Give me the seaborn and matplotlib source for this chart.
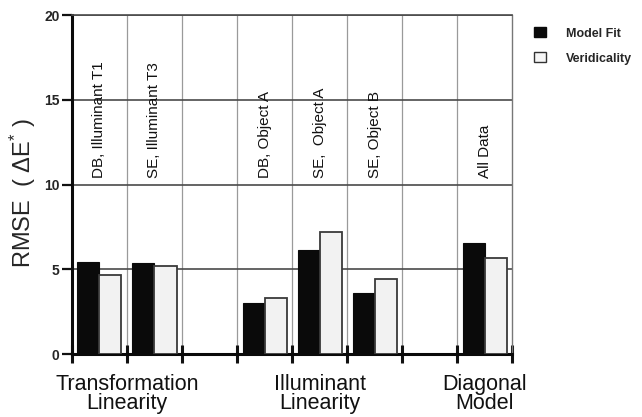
import matplotlib
matplotlib.use("Agg")
import matplotlib.pyplot as plt
from matplotlib.patches import Patch
import seaborn as sns
import pandas as pd

# Slots along the x axis (gap slots separate the three analysis groups)
slots = ["DB, Illuminant T1", "SE, Illuminant T3", "gap_a",
         "DB, Object A", "SE,  Object A", "SE, Object B", "gap_b",
         "All Data"]
conditions = ["DB, Illuminant T1", "SE, Illuminant T3",
              "DB, Object A", "SE,  Object A", "SE, Object B", "All Data"]
model_fit = [5.45, 5.35, 3.02, 6.12, 3.58, 6.53]
veridicality = [4.66, 5.20, 3.32, 7.21, 4.40, 5.64]
series = ["Model Fit", "Veridicality"]
groups = ["Transformation\nLinearity", "Illuminant\nLinearity", "Diagonal\nModel"]
group_members = [["DB, Illuminant T1", "SE, Illuminant T3"],
                 ["DB, Object A", "SE,  Object A", "SE, Object B"],
                 ["All Data"]]
y_ticks = [0, 5, 10, 15, 20]

df = pd.DataFrame({
    "condition": conditions * 2,
    "series": [series[0]] * len(conditions) + [series[1]] * len(conditions),
    "rmse": model_fit + veridicality,
})

sns.set_theme(style="white")
plt.rcParams["font.family"] = ["Liberation Sans", "DejaVu Sans"]
plt.rcParams["mathtext.fontset"] = "custom"
plt.rcParams["mathtext.rm"] = "Liberation Sans"
plt.rcParams["mathtext.it"] = "Liberation Sans"

fig = plt.figure(figsize=(6.42, 4.17), dpi=100)
ax = fig.add_axes([0.112, 0.151, 0.686, 0.813])

palette = {"Model Fit": "#0a0a0a", "Veridicality": "#f2f2f2"}
sns.barplot(data=df, x="condition", y="rmse", hue="series", order=slots,
            hue_order=series, palette=palette, width=0.8, gap=0.0,
            errorbar=None, legend=False, ax=ax, saturation=1)

for bar in ax.patches:
    fc = bar.get_facecolor()
    if fc[0] > 0.5:
        bar.set_edgecolor("#3a3a3a")
        bar.set_linewidth(1.3)
    else:
        bar.set_edgecolor("#0a0a0a")
        bar.set_linewidth(0.8)
    bar.set_zorder(3)

ax.set_xlim(-0.5, len(slots) - 0.5)
ax.set_ylim(0, 20)
ax.set_axisbelow(True)

# slot boundaries as ticks and vertical grid
bounds = [i - 0.5 for i in range(len(slots) + 1)]
ax.set_xticks(bounds)
ax.set_xticklabels([])
ax.tick_params(axis="x", bottom=True, direction="inout", length=13,
               width=2.2, color="#111")
for b in bounds[1:-1]:
    ax.axvline(b, color="#9a9a9a", lw=0.9, zorder=0)
for yv in y_ticks[1:]:
    ax.axhline(yv, color="#4a4a4a", lw=1.2, zorder=0)

ax.set_yticks(y_ticks)
ax.set_yticklabels([str(v) for v in y_ticks], fontsize=10, fontweight="bold")
ax.tick_params(axis="y", direction="out", length=7, width=1.6, color="#111",
               left=True, pad=2)

for side in ["left", "bottom"]:
    ax.spines[side].set_color("#0a0a0a")
    ax.spines[side].set_linewidth(2.2)
ax.spines["top"].set_color("#4a4a4a")
ax.spines["top"].set_linewidth(1.2)
ax.spines["right"].set_color("#777")
ax.spines["right"].set_linewidth(1.0)

ax.set_xlabel("")
ax.set_ylabel(r"RMSE  ( $\Delta$E$^{*}$ )", fontsize=17)
ax.yaxis.set_label_coords(-0.077, 0.475)

# condition names written vertically inside each slot
for name in conditions:
    ax.text(slots.index(name), 10.4, name, rotation=90, ha="center",
            va="bottom", fontsize=11, color="#111")

# group captions below the axis
for label, members in zip(groups, group_members):
    xc = sum(slots.index(m) for m in members) / len(members)
    ax.text(xc, -0.058, label, transform=ax.get_xaxis_transform(),
            ha="center", va="top", fontsize=15.5, linespacing=0.92,
            color="#111")

handles = [Patch(facecolor=palette["Model Fit"], edgecolor="#0a0a0a"),
           Patch(facecolor="#f6f6f6", edgecolor="#333", linewidth=1.0)]
fig.legend(handles, series, loc="upper left", bbox_to_anchor=(0.815, 0.962),
           frameon=False, handlelength=0.9, handleheight=0.9,
           handletextpad=1.6, labelspacing=1.0,
           prop={"weight": "bold", "size": 9})

fig.savefig("out.png", dpi=100)
